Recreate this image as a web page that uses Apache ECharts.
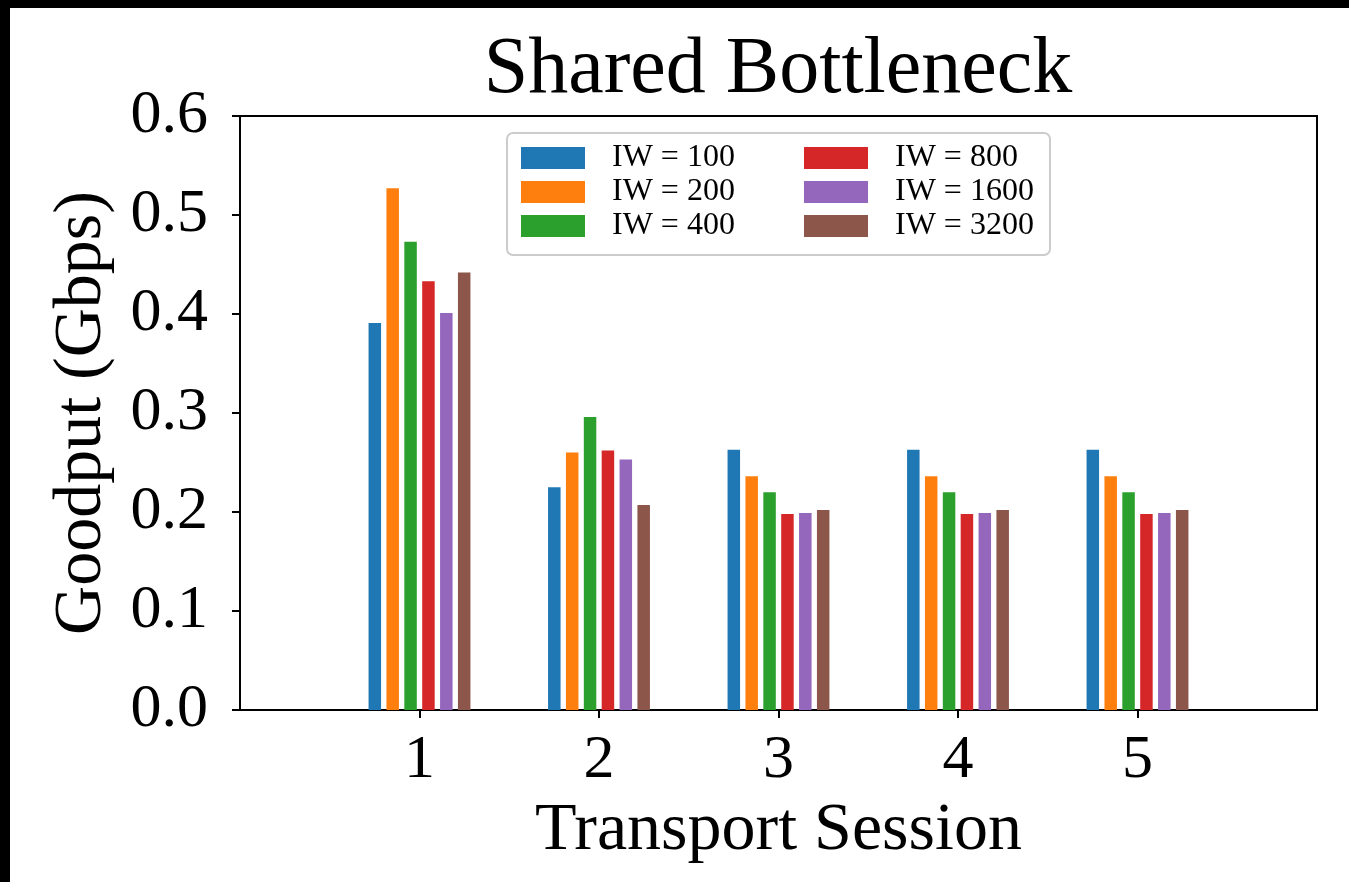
<!DOCTYPE html>
<html>
<head>
<meta charset="utf-8">
<script src="https://cdn.jsdelivr.net/npm/echarts@6/dist/echarts.min.js"></script>
<style>
html,body{margin:0;padding:0;background:#fff;}
#c{width:1349px;height:882px;}
</style>
</head>
<body>
<div id="c"></div>
<script>
// ---- data ----
var sessions = ['1', '2', '3', '4', '5'];
var seriesNames = ['IW = 100', 'IW = 200', 'IW = 400', 'IW = 800', 'IW = 1600', 'IW = 3200'];
var iw100  = [0.391, 0.225, 0.263, 0.263, 0.263];
var iw200  = [0.527, 0.260, 0.236, 0.236, 0.236];
var iw400  = [0.473, 0.296, 0.220, 0.220, 0.220];
var iw800  = [0.433, 0.262, 0.198, 0.198, 0.198];
var iw1600 = [0.401, 0.253, 0.199, 0.199, 0.199];
var iw3200 = [0.442, 0.207, 0.202, 0.202, 0.202];
var yTicks = [0.0, 0.1, 0.2, 0.3, 0.4, 0.5, 0.6];
var colors = ['#1f77b4', '#ff7f0e', '#2ca02c', '#d62728', '#9467bd', '#8c564b'];

var FONT = "'Liberation Serif', 'DejaVu Serif', serif";
var allValues = [iw100, iw200, iw400, iw800, iw1600, iw3200];
// x axis spans 0..6 with sessions at 1..5
var axisCats = [''].concat(sessions).concat(['']);

var series = allValues.map(function (vals, i) {
  return {
    name: seriesNames[i],
    type: 'bar',
    barWidth: 12.5,
    barGap: '43%',
    itemStyle: { color: colors[i] },
    data: [null].concat(vals).concat([null])
  };
});

var chart = echarts.init(document.getElementById('c'), null, { renderer: 'canvas' });
var legendCommon = {
  orient: 'vertical',
  padding: 0,
  itemWidth: 64,
  itemHeight: 22,
  itemGap: 2,
  icon: 'rect',
  selectedMode: false,
  textStyle: { fontFamily: FONT, fontSize: 32, color: '#000', padding: [0, 0, 0, 22] }
};
chart.setOption({
  animation: false,
  backgroundColor: '#fff',
  color: colors,
  title: {
    text: 'Shared Bottleneck',
    left: 778,
    textAlign: 'center',
    top: 31,
    padding: 0,
    textStyle: { fontFamily: FONT, fontSize: 80, fontWeight: 'normal', color: '#000' }
  },
  legend: [
    Object.assign({ data: seriesNames.slice(0, 3), left: 521, top: 142 }, legendCommon),
    Object.assign({ data: seriesNames.slice(3, 6), left: 804, top: 142 }, legendCommon)
  ],
  grid: {
    left: 240, right: 32, top: 116, bottom: 172,
    show: true, borderColor: '#000', borderWidth: 2, backgroundColor: 'transparent'
  },
  xAxis: {
    type: 'category',
    data: axisCats,
    boundaryGap: false,
    name: 'Transport Session',
    nameLocation: 'middle',
    nameGap: 86,
    nameTextStyle: { fontFamily: FONT, fontSize: 68, color: '#000' },
    axisLine: { lineStyle: { color: '#000', width: 2 } },
    axisTick: {
      show: true, length: 8, lineStyle: { color: '#000', width: 2 },
      interval: function (idx) { return idx > 0 && idx < axisCats.length - 1; }
    },
    axisLabel: { interval: 0, margin: 20, fontFamily: FONT, fontSize: 62, color: '#000' },
    splitLine: { show: false }
  },
  yAxis: {
    type: 'value',
    min: yTicks[0],
    max: yTicks[yTicks.length - 1],
    interval: 0.1,
    name: 'Goodput (Gbps)',
    nameLocation: 'middle',
    nameGap: 124,
    nameTextStyle: { fontFamily: FONT, fontSize: 68, color: '#000' },
    axisLine: { show: true, lineStyle: { color: '#000', width: 2 } },
    axisTick: { show: true, length: 8, lineStyle: { color: '#000', width: 2 } },
    axisLabel: {
      margin: 32, fontFamily: FONT, fontSize: 62, color: '#000',
      formatter: function (v) { return v.toFixed(1); }
    },
    splitLine: { show: false }
  },
  graphic: [
    { type: 'rect', z: 0, shape: { x: 507, y: 133, width: 543, height: 122, r: 6 },
      style: { fill: 'rgba(255,255,255,0.8)', stroke: '#cccccc', lineWidth: 2 } },
    { type: 'rect', z: 100, shape: { x: 0, y: 0, width: 1349, height: 8 }, style: { fill: '#000' } },
    { type: 'rect', z: 100, shape: { x: 0, y: 0, width: 10, height: 882 }, style: { fill: '#000' } }
  ],
  series: series
});
</script>
</body>
</html>
